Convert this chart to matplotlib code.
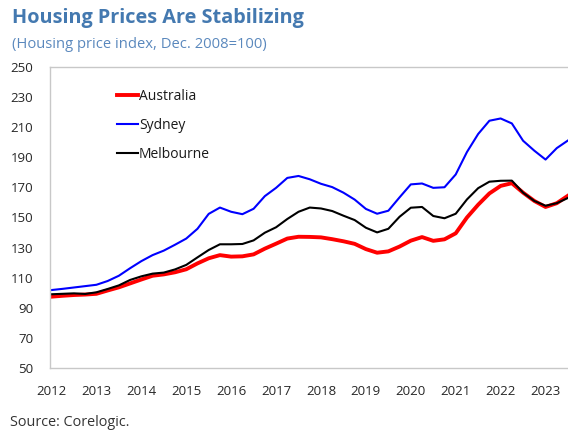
import numpy as np
import matplotlib
matplotlib.use("Agg")
import matplotlib.pyplot as plt

plt.rcParams['font.family'] = ['Open Sans', 'DejaVu Sans']

# Indice des prix immobiliers (Dec. 2008 = 100), valeurs trimestrielles
debut = 2012.0
australia = [97.4, 98.0, 98.5, 98.8, 99.3, 101.5, 103.6, 106.2, 108.8, 111.3, 112.2, 113.6,
             115.6, 119.5, 122.9, 125.0, 124.0, 124.2, 125.5, 129.3, 132.6, 136.0, 137.2, 137.1,
             136.8, 135.6, 134.2, 132.5, 129.0, 126.6, 127.5, 130.7, 134.6, 137.0, 134.5, 135.5,
             139.5, 150.0, 158.5, 166.0, 171.0, 172.8, 166.5, 161.0, 157.0, 159.5, 164.5]
sydney = [101.8, 102.6, 103.5, 104.4, 105.3, 107.8, 111.3, 116.3, 121.0, 125.0, 128.0, 131.9,
          136.0, 142.5, 152.4, 156.6, 153.8, 152.2, 155.8, 164.2, 169.7, 176.3, 177.6, 175.4,
          172.4, 170.2, 166.5, 161.9, 155.7, 152.5, 154.5, 163.4, 172.0, 172.6, 169.7, 170.1,
          178.6, 193.5, 205.5, 214.3, 215.8, 212.5, 201.0, 194.4, 188.5, 196.1, 201.2]
melbourne = [99.0, 99.3, 99.6, 99.2, 100.3, 102.5, 104.9, 108.5, 110.9, 112.7, 113.4, 115.5,
             118.5, 123.5, 128.4, 132.2, 132.2, 132.4, 134.8, 139.9, 143.5, 149.0, 153.8, 156.6,
             156.0, 154.3, 151.2, 148.3, 143.2, 140.1, 142.5, 150.5, 156.5, 157.0, 151.0, 149.5,
             152.5, 162.0, 169.5, 173.8, 174.4, 174.5, 166.5, 161.0, 157.8, 159.5, 163.0]
annees = debut + np.arange(len(sydney)) * 0.25
ticks_x = list(range(2012, 2024))
ticks_y = list(range(50, 251, 20))

fig = plt.figure(figsize=(5.68, 4.32), dpi=100)
ax = fig.add_axes([50 / 568, 64 / 432, 518 / 568, 301 / 432])

ax.plot(annees, australia, color="#ff0000", lw=2.8, label="Australia")
ax.plot(annees, sydney, color="#0000ff", lw=1.5, label="Sydney")
ax.plot(annees, melbourne, color="#000000", lw=1.5, label="Melbourne")

ax.set_xlim(2012 - 1.5 / 44.9, 2023.5)
ax.set_ylim(50, 250)
ax.set_xticks(ticks_x)
ax.set_yticks(ticks_y)
ax.tick_params(length=0, labelsize=9.5, colors="#262626", pad=12)

for s in ["left", "top", "bottom"]:
    ax.spines[s].set_color("#c8c8c8")
    ax.spines[s].set_linewidth(1.0)
ax.spines["right"].set_visible(False)

leg = ax.legend(loc="upper left", bbox_to_anchor=(0.118, 0.945), frameon=False,
                fontsize=10, handlelength=1.5, handletextpad=0.1, labelspacing=1.0,
                borderaxespad=0)
for t in leg.get_texts():
    t.set_color("#1a1a1a")

fig.text(12 / 568, 1 - 18 / 432, "Housing Prices Are Stabilizing", fontsize=14.3,
         fontweight="bold", color="#4479b0", va="center", ha="left")
fig.text(12 / 568, 1 - 44 / 432, "(Housing price index, Dec. 2008=100)", fontsize=10.6,
         color="#5a88bd", va="center", ha="left")
fig.text(10 / 568, 1 - 422 / 432, "Source: Corelogic.", fontsize=10.4,
         color="#333333", va="center", ha="left")

fig.savefig("out.png", dpi=100)
